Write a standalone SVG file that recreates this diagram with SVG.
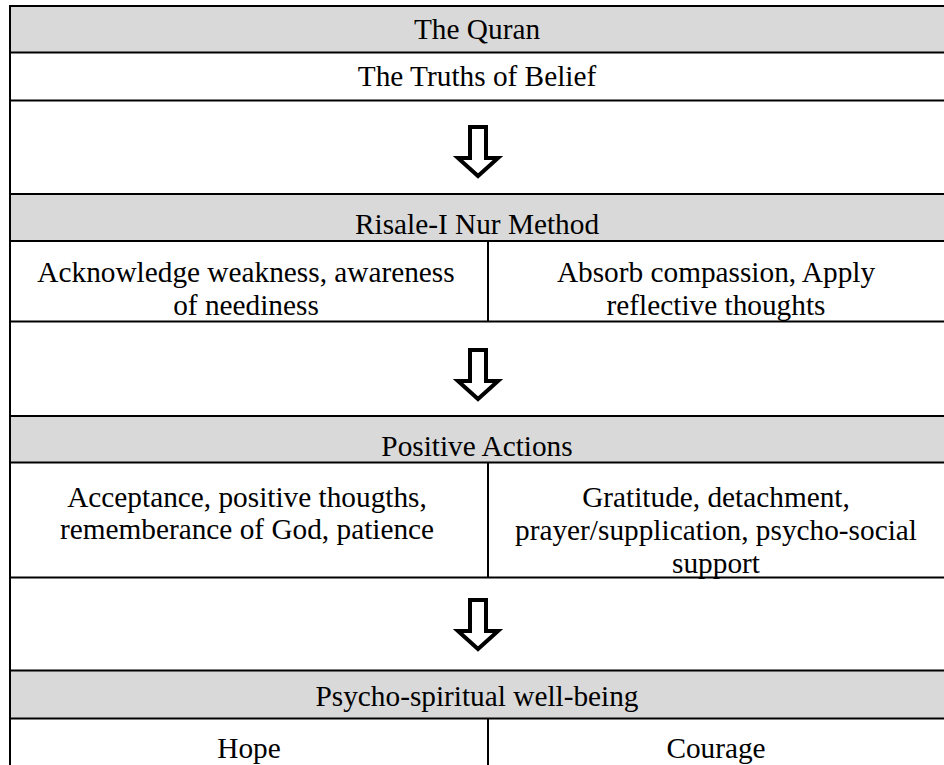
<svg xmlns="http://www.w3.org/2000/svg" width="944" height="765" viewBox="0 0 944 765">
<style>
.hdr{fill:#d9d9d9}
.ln{stroke:#000;stroke-width:2;fill:none}
.vd{stroke:#000;stroke-width:2}
text{font-family:"Liberation Serif","Times New Roman",serif;font-size:29.3px;fill:#000;text-anchor:middle}
.arr{fill:#fff;stroke:#000;stroke-width:4;stroke-linejoin:miter}
</style>
<defs>
<path id="downArrow" class="arr" d="M-8,0 H8 V31 H20 L0,49 L-20,31 H-8 Z"/>
</defs>
<rect width="944" height="765" fill="#fff"/>
<g id="header-quran"><rect class="hdr" x="10" y="6" width="934" height="46.5"/><text x="477" y="39">The Quran</text></g>
<g id="truths"><text x="477" y="86">The Truths of Belief</text></g>
<g id="header-risale"><rect class="hdr" x="10" y="194" width="934" height="47"/><text x="477" y="234">Risale-I Nur Method</text></g>
<g id="risale-left"><text x="246" y="282">Acknowledge weakness, awareness</text><text x="246" y="315">of neediness</text></g>
<g id="risale-right"><text x="716" y="282">Absorb compassion, Apply</text><text x="716" y="315">reflective thoughts</text></g>
<g id="header-positive"><rect class="hdr" x="10" y="416" width="934" height="46.5"/><text x="477" y="456">Positive Actions</text></g>
<g id="positive-left"><text x="247" y="507">Acceptance, positive thougths,</text><text x="247" y="539">rememberance of God, patience</text></g>
<g id="positive-right"><text x="716" y="507">Gratitude, detachment,</text><text x="716" y="540">prayer/supplication, psycho-social</text><text x="716" y="573">support</text></g>
<g id="header-wellbeing"><rect class="hdr" x="10" y="670.5" width="934" height="48"/><text x="477" y="706">Psycho-spiritual well-being</text></g>
<g id="hope"><text x="249" y="758">Hope</text></g>
<g id="courage"><text x="716" y="758">Courage</text></g>
<g id="grid">
<path class="ln" d="M10,6 H944 M10,52.5 H944 M10,100.5 H944 M10,194 H944 M10,241 H944 M10,321.5 H944 M10,416 H944 M10,462.5 H944 M10,577.5 H944 M10,670.5 H944 M10,718.5 H944"/>
<path class="ln" d="M10,5 V765"/>
<path class="vd" d="M488,241 V321.5 M488,462.5 V577.5 M488,718.5 V765"/>
</g>
<g id="connectors">
<use href="#downArrow" x="478" y="127"/>
<use href="#downArrow" x="478" y="350"/>
<use href="#downArrow" x="478" y="600"/>
</g>
</svg>
